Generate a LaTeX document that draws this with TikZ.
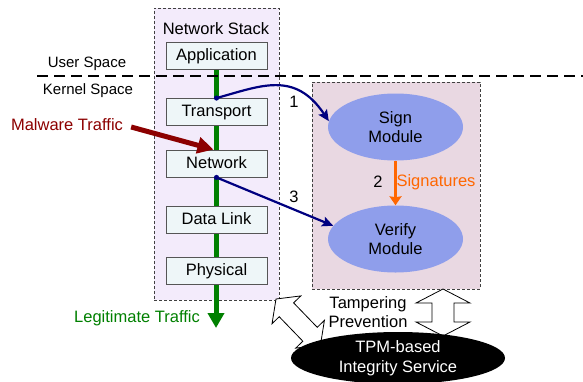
\documentclass[tikz,border=0pt]{standalone}
\usepackage{fontspec}
\setmainfont{Liberation Sans}
\usetikzlibrary{arrows.meta,shapes.geometric}
\definecolor{stackfill}{RGB}{243,235,251}
\definecolor{pinkfill}{RGB}{233,216,226}
\definecolor{layerfill}{RGB}{238,246,248}
\definecolor{layerline}{RGB}{85,85,85}
\definecolor{modfill}{RGB}{143,158,235}
\definecolor{navyc}{RGB}{0,0,128}
\definecolor{orangec}{RGB}{255,102,0}
\definecolor{malred}{RGB}{140,0,0}
\definecolor{legitgreen}{RGB}{0,128,0}
\begin{document}
\begin{tikzpicture}[x=1pt,y=-1pt,
  font=\fontsize{16.5}{19.5}\selectfont,
  layer/.style={draw=layerline, line width=0.9pt, fill=layerfill, minimum width=101pt, minimum height=27pt, inner sep=0pt, text height=0.92em, text depth=0pt},
  module/.style={ellipse, fill=modfill, minimum width=135pt, minimum height=67pt, inner sep=0pt, align=center},
  lbl/.style={inner sep=0pt, align=center},
  small/.style={font=\fontsize{15}{18}\selectfont},
  dashbox/.style={draw=black!75, line width=0.8pt, dash pattern=on 3pt off 2pt},
  bluearrow/.style={draw=navyc, line width=2.2pt, -{Stealth[length=11pt,width=10pt,inset=2pt]}},
  blockarrow/.style={draw=black, line width=0.8pt, fill=white, line join=miter}
]
\useasboundingbox (0,0) rectangle (583,381);

% containers
\node[dashbox, fill=stackfill, minimum width=125pt, minimum height=292pt, inner sep=0pt] (stack) at (216.5,154) {};
\node[dashbox, fill=pinkfill, minimum width=168pt, minimum height=207pt, inner sep=0pt] (prot) at (396,185.5) {};
\node[lbl] (stacklbl) at (216,29) {Network Stack};

% green traffic line
\coordinate (gstart) at (216,69);
\coordinate (gtip) at (216,328);
\draw[legitgreen, line width=5pt, -{Triangle[length=15pt,width=16pt]}] (gstart) -- (gtip);

% layers
\node[layer] (app) at (216.5,55.5) {Application};
\node[layer] (tr) at (216.5,112) {Transport};
\node[layer] (net) at (216.5,163.5) {Network};
\node[layer] (dl) at (216.5,220) {Data Link};
\node[layer] (ph) at (216.5,270.5) {Physical};

% user/kernel boundary
\coordinate (bl) at (37,76);
\coordinate (br) at (583,76);
\draw[line width=2pt, dash pattern=on 11pt off 6pt] (bl) -- (br);
\node[lbl, small] (us) at (87,64) {User Space};
\node[lbl, small] (ks) at (88,91) {Kernel Space};

% malware
\node[lbl, text=malred] (mal) at (67,125) {Malware Traffic};
\draw[malred, line width=5pt, -{Triangle[length=16pt,width=16pt]}] ([shift={(8,2)}]mal.east) -- ([xshift=-3pt]net.north);

\node[lbl, text=legitgreen] (legit) at (137,318) {Legitimate Traffic};

% modules
\node[module] (sign) at (395.5,127) {Sign\\Module};
\node[module] (verify) at (395.5,239) {Verify\\Module};

\draw[orangec, line width=2.5pt, -{Stealth[length=9pt,width=12pt,inset=1pt]}] (sign.south) -- (verify.north);
\node[lbl] (n2) at (378,182) {2};
\node[lbl, text=orangec] (sig) at (436,182) {Signatures};

% blue arrows
\fill[navyc] (tr.north) circle (2.6pt);
\draw[bluearrow] (tr.north) .. controls +(44,-12) and +(-34,-51) .. (sign.175);
\node[lbl] (n1) at (294,102) {1};
\fill[navyc] (net.south) circle (2.6pt);
\draw[bluearrow] (net.south) -- (verify.168);
\node[lbl] (n3) at (294,197) {3};

% tampering prevention
\node[lbl] (tamp) at (368,312) {Tampering\\Prevention};
\draw[blockarrow] (443,289) -- (470,303) -- (454,303) -- (454,322) -- (470,322) -- (443,336) -- (416,322) -- (432,322) -- (432,303) -- (416,303) -- cycle;
\begin{scope}[shift={(276,299)}, rotate=-46]
\draw[blockarrow] (0,0) -- (15,20) -- (15,10) -- (49,10) -- (49,20) -- (64,0) -- (49,-20) -- (49,-10) -- (15,-10) -- (15,-20) -- cycle;
\end{scope}

\node[ellipse, fill=black, text=white, minimum width=214pt, minimum height=52pt, inner sep=0pt, align=center] (tpm) at (398,358) {TPM-based\\Integrity Service};
\end{tikzpicture}
\end{document}
